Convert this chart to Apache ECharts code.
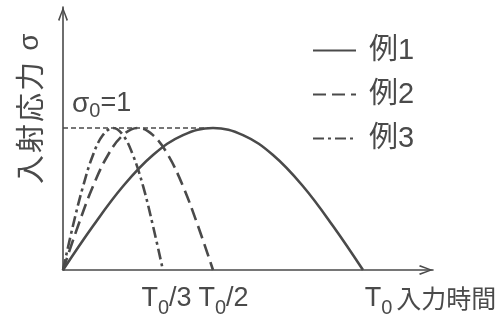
<!DOCTYPE html>
<html>
<head>
<meta charset="utf-8">
<script src="https://cdn.jsdelivr.net/npm/echarts@6/dist/echarts.min.js"></script>
<style>
html, body { margin: 0; padding: 0; background: #fff; }
#chart { width: 503px; height: 320px; }
</style>
</head>
<body>
<div id="chart"></div>
<script>
var chart = echarts.init(document.getElementById('chart'));

// time in units of T0, stress in units of sigma0
var example1 = [[0, 0], [0.1, 0.31], [0.2, 0.59], [0.3, 0.81], [0.4, 0.95], [0.5, 1],
    [0.6, 0.95], [0.7, 0.81], [0.8, 0.59], [0.9, 0.31], [1, 0]];
var example2 = [[0, 0], [0.05, 0.31], [0.1, 0.59], [0.15, 0.81], [0.2, 0.95], [0.25, 1],
    [0.3, 0.95], [0.35, 0.81], [0.4, 0.59], [0.45, 0.31], [0.5, 0]];
var example3 = [[0, 0], [0.033, 0.31], [0.067, 0.59], [0.1, 0.81], [0.133, 0.95], [0.167, 1],
    [0.2, 0.95], [0.233, 0.81], [0.267, 0.59], [0.3, 0.31], [0.333, 0]];
var sigma0Line = [[0, 1], [0.5, 1]];
var seriesNames = ['例1', '例2', '例3'];
// two label sets so the close T0/3 and T0/2 labels are not dropped as overlapping
var tickValuesA = [1 / 3, 1];
var tickValuesB = [1 / 2];
var tickLabelsA = ['{p1| }{t|T}{s|0}{t|/3}', '{p3| }{t|T}{s|0}{n|入力時間}'];
var tickLabelsB = ['{p2| }{t|T}{s|0}{t|/2}'];

var ink = '#4a4a4a';
var latin = "'Liberation Sans', 'Noto Sans CJK JP', sans-serif";
var cjk = "'Noto Sans CJK JP', sans-serif";
var arrowPath = 'path://M5,0 L10,13 L8.6,13.8 L5,3.6 L1.4,13.8 L0,13 Z';

var labelRich = {
    p1: { width: 7 },
    p2: { width: 21 },
    p3: { width: 135 },
    t: { fontSize: 27, fontFamily: latin, color: ink },
    s: { fontSize: 20, fontFamily: latin, color: ink, padding: [19, 0, 0, 0] },
    n: { fontSize: 25, fontFamily: cjk, color: ink, padding: [0, 0, 0, 4] }
};

function makeFormatter(values, labels) {
    return function (value) {
        for (var i = 0; i < values.length; i++) {
            if (Math.abs(value - values[i]) < 1e-6) {
                return labels[i];
            }
        }
        return '';
    };
}

option = {
    backgroundColor: '#fff',
    animation: false,
    grid: {
        left: 63,
        right: 70,
        top: 7,
        bottom: 50,
        outerBoundsMode: 'none'
    },
    legend: {
        orient: 'vertical',
        left: 307,
        top: 31,
        itemWidth: 43,
        itemHeight: 14,
        itemGap: 15,
        itemStyle: { opacity: 0 },
        textStyle: {
            color: ink,
            fontSize: 29,
            fontFamily: latin,
            padding: [0, 0, 0, 8]
        },
        data: seriesNames
    },
    xAxis: [
        {
            type: 'value',
            min: 0,
            max: 1.2333,
            splitLine: { show: false },
            axisTick: { show: false },
            axisLine: {
                symbol: ['none', arrowPath],
                symbolSize: [10, 14],
                symbolOffset: [0, -7],
                lineStyle: { color: ink, width: 1.6 }
            },
            axisLabel: {
                customValues: tickValuesA,
                margin: 9,
                color: ink,
                formatter: makeFormatter(tickValuesA, tickLabelsA),
                rich: labelRich
            }
        },
        {
            type: 'value',
            position: 'bottom',
            min: 0,
            max: 1.2333,
            splitLine: { show: false },
            axisTick: { show: false },
            axisLine: { show: false },
            axisLabel: {
                customValues: tickValuesB,
                margin: 9,
                color: ink,
                formatter: makeFormatter(tickValuesB, tickLabelsB),
                rich: labelRich
            }
        }
    ],
    yAxis: {
        type: 'value',
        min: 0,
        max: 1.852,
        splitLine: { show: false },
        axisTick: { show: false },
        axisLabel: { show: false },
        axisLine: {
            symbol: ['none', arrowPath],
            symbolSize: [10, 14],
            symbolOffset: [0, -7],
            lineStyle: { color: ink, width: 1.6 }
        }
    },
    graphic: [
        {
            type: 'text',
            x: 30,
            y: 104,
            rotation: Math.PI / 2,
            style: {
                text: '{c|入}{c|射}{c|応}{c|力}{g|σ}',
                align: 'center',
                verticalAlign: 'middle',
                rich: {
                    c: { width: 31, align: 'center', fontSize: 29, fontFamily: cjk, fill: ink },
                    g: { width: 38, align: 'center', fontSize: 28, fontFamily: 'Liberation Sans', fill: ink }
                }
            }
        },
        {
            type: 'text',
            left: 72,
            top: 90,
            style: {
                text: '{a|σ}{s|0}{b|=1}',
                rich: {
                    a: { fontSize: 28, fontFamily: 'Liberation Sans', fill: ink },
                    s: { fontSize: 20, fontFamily: latin, fill: ink, padding: [14, 0, 0, 0] },
                    b: { fontSize: 27, fontFamily: latin, fill: ink }
                }
            }
        }
    ],
    series: [
        {
            name: '例1',
            type: 'line',
            smooth: 0.4,
            symbol: 'none',
            data: example1,
            lineStyle: { color: ink, width: 2.6, type: 'solid' },
            itemStyle: { color: ink }
        },
        {
            name: '例2',
            type: 'line',
            smooth: 0.4,
            symbol: 'none',
            data: example2,
            lineStyle: { color: ink, width: 2.6, type: [13, 6] },
            itemStyle: { color: ink }
        },
        {
            name: '例3',
            type: 'line',
            smooth: 0.4,
            symbol: 'none',
            data: example3,
            lineStyle: { color: ink, width: 2.6, type: [11, 4, 3, 4] },
            itemStyle: { color: ink }
        },
        {
            name: 'sigma0',
            type: 'line',
            symbol: 'none',
            data: sigma0Line,
            lineStyle: { color: ink, width: 1.6, type: [5, 3] },
            z: 1
        }
    ]
};

chart.setOption(option);
</script>
</body>
</html>
